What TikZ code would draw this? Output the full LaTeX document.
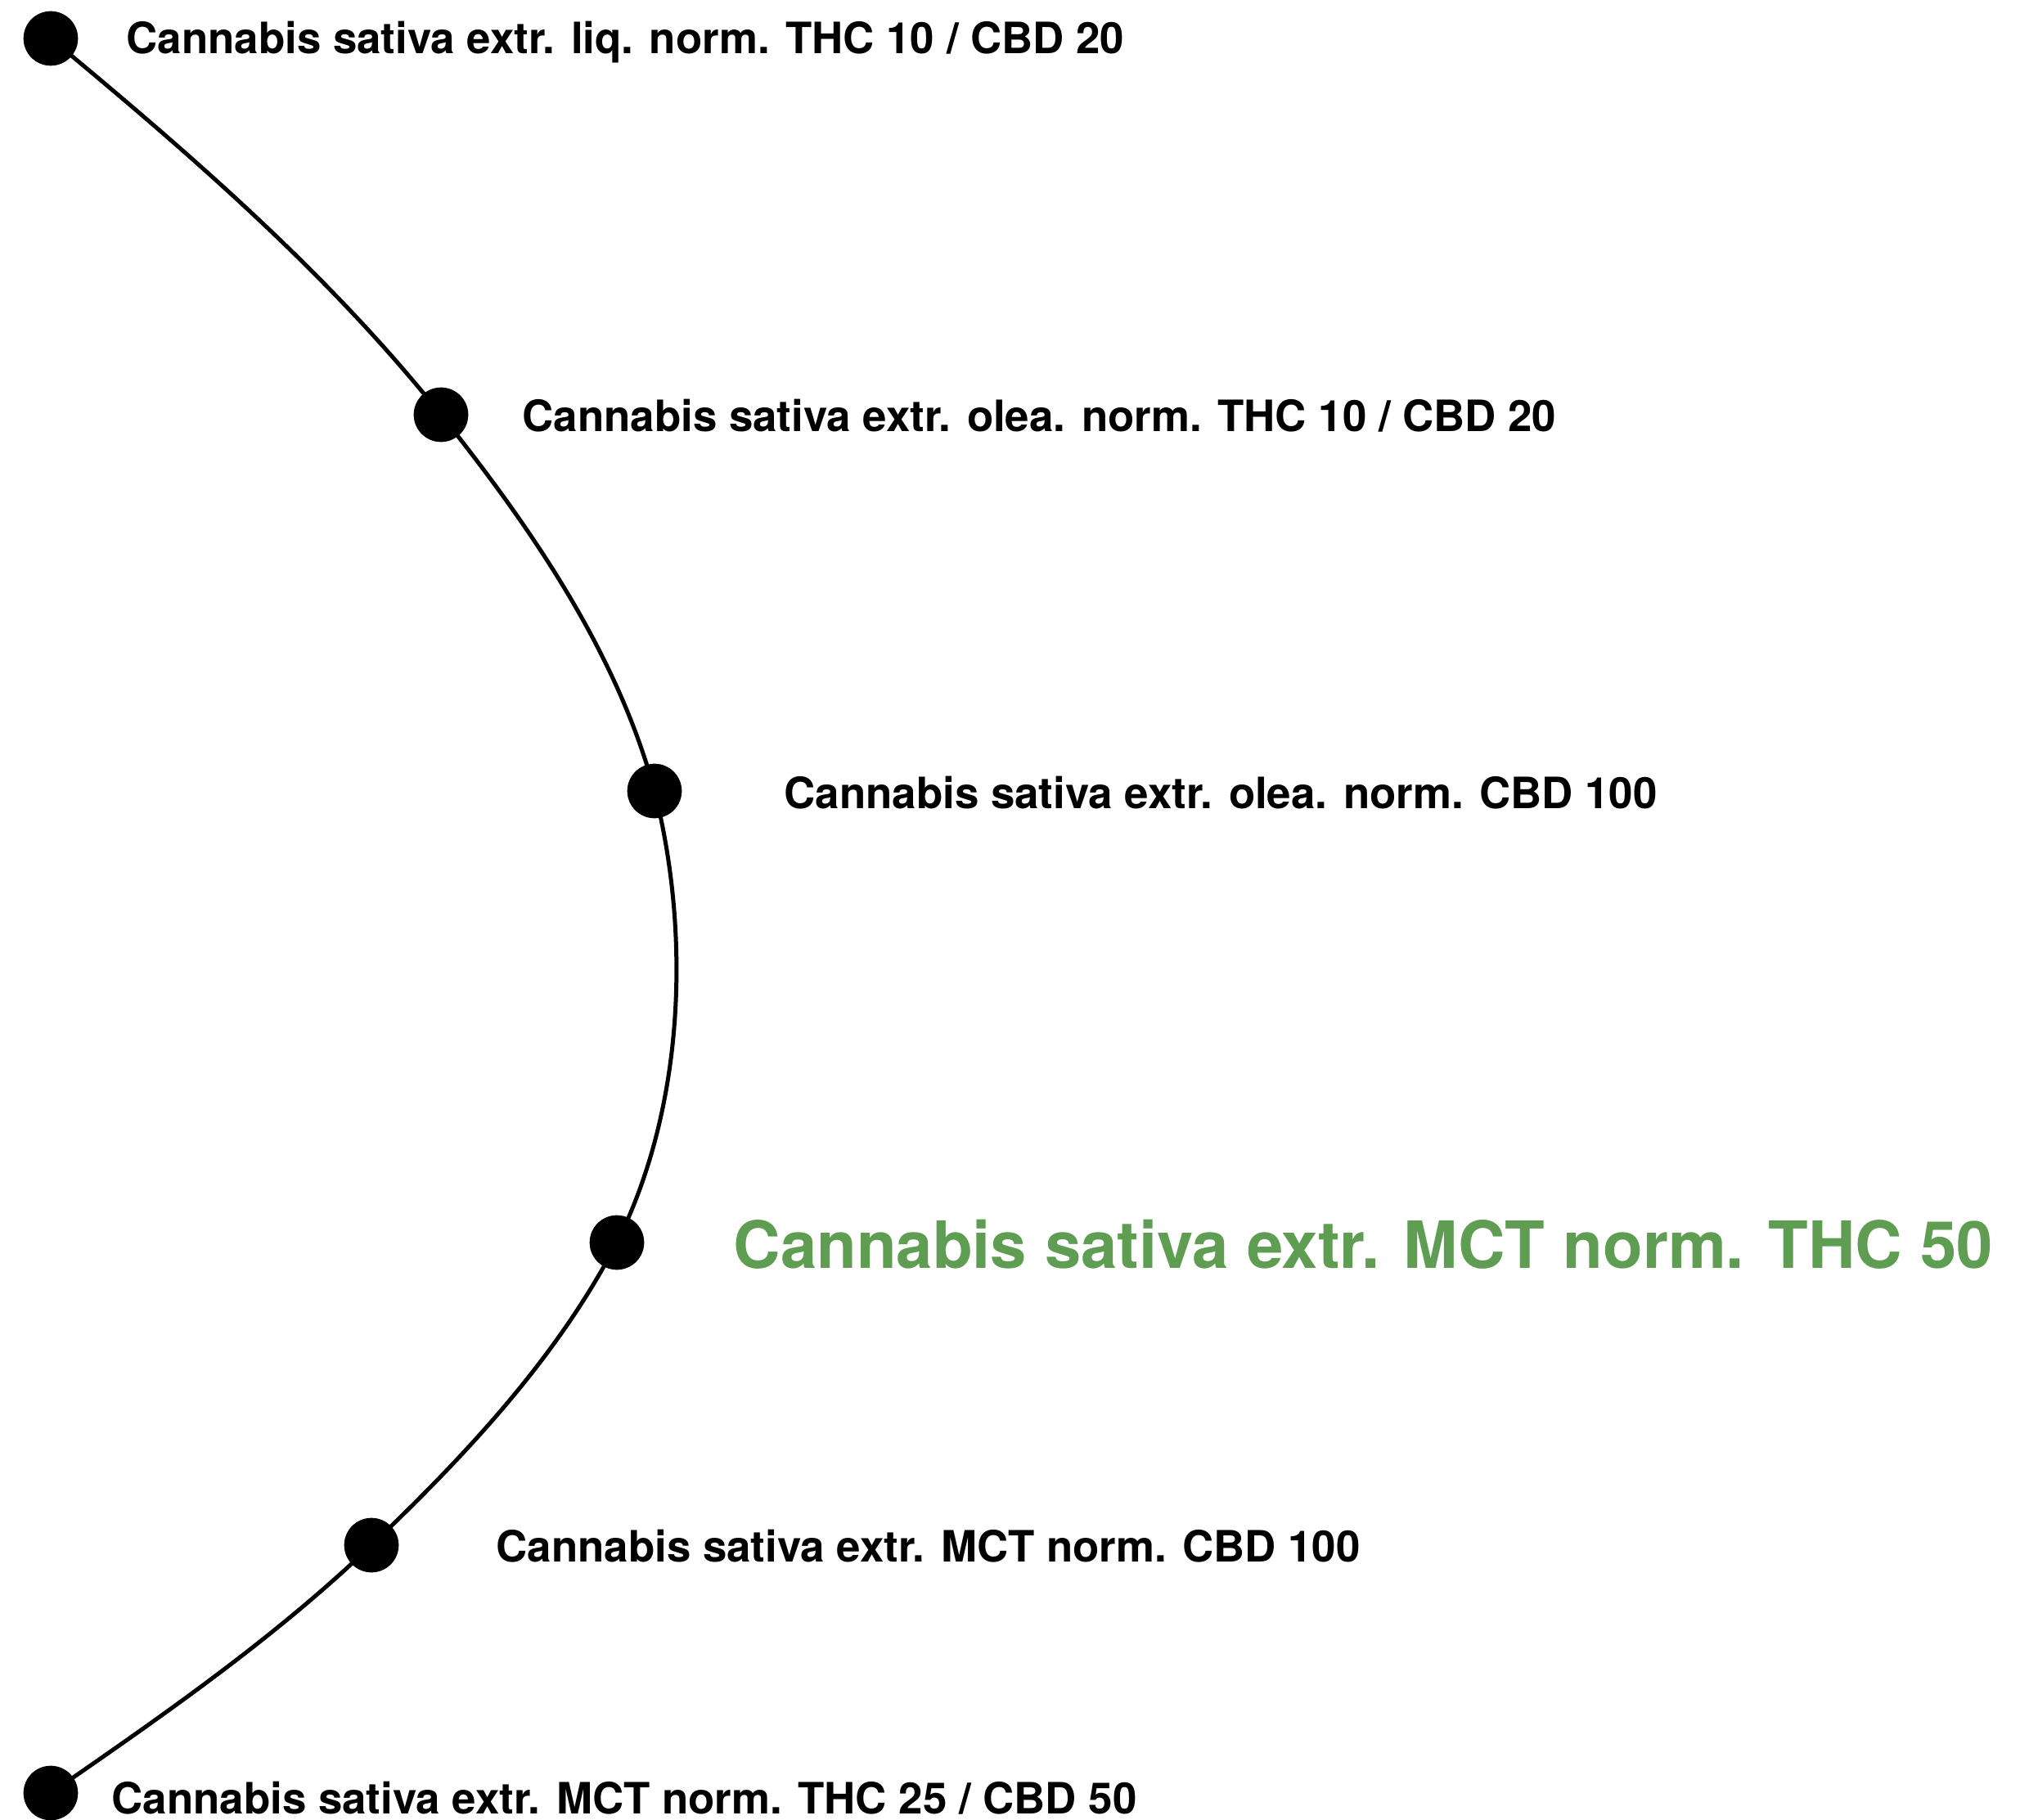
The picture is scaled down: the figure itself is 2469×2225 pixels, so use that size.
\documentclass[tikz,border=0pt]{standalone}
\usepackage{fontspec}
\setmainfont{TeX Gyre Heros}
\definecolor{leafgreen}{RGB}{94,157,82}
\begin{document}
\begin{tikzpicture}[x=0.3pt,y=-0.3pt,
  dot/.style={circle,fill=black,draw=none,minimum size=20pt,inner sep=0pt},
  lbl/.style={anchor=base west,inner sep=0pt,font=\fontsize{15.85}{18}\selectfont\bfseries},
  biglbl/.style={anchor=base west,inner sep=0pt,text=leafgreen,font=\fontsize{23.9}{28}\selectfont\bfseries},
  arc/.style={line width=1.5pt,black}]
\useasboundingbox (0,0) rectangle (2469,2225);
% curve segments (drawn first, dots on top)
\coordinate (p1) at (62,47);
\coordinate (p2) at (539,507);
\coordinate (p3) at (800,967);
\coordinate (p4) at (754,1519);
\coordinate (p5) at (454,1889);
\coordinate (p6) at (62,2192);
\draw[arc] (p1) .. controls (232,188) and (401,334) .. (p2)
  .. controls (649,645) and (754,797) .. (p3)
  .. controls (845,1145) and (836,1355) .. (p4)
  .. controls (681,1660) and (569,1779) .. (p5)
  .. controls (335,2003) and (198,2098) .. (p6);
\node[dot] (n1) at (p1) {};
\node[dot] (n2) at (p2) {};
\node[dot] (n3) at (p3) {};
\node[dot] (n4) at (p4) {};
\node[dot] (n5) at (p5) {};
\node[dot] (n6) at (p6) {};
\node[lbl] (t1) at (154,66) {Cannabis sativa extr. liq. norm. THC 10 / CBD 20};
\node[lbl] (t2) at (638,528) {Cannabis sativa extr. olea. norm. THC 10 / CBD 20};
\node[lbl] (t3) at (958,988) {Cannabis sativa extr. olea. norm. CBD 100};
\node[biglbl] (t4) at (896,1550) {Cannabis sativa extr. MCT norm. THC 50};
\node[lbl] (t5) at (606,1909) {Cannabis sativa extr. MCT norm. CBD 100};
\node[lbl] (t6) at (136,2217) {Cannabis sativa extr. MCT norm. THC 25 / CBD 50};
\end{tikzpicture}
\end{document}
